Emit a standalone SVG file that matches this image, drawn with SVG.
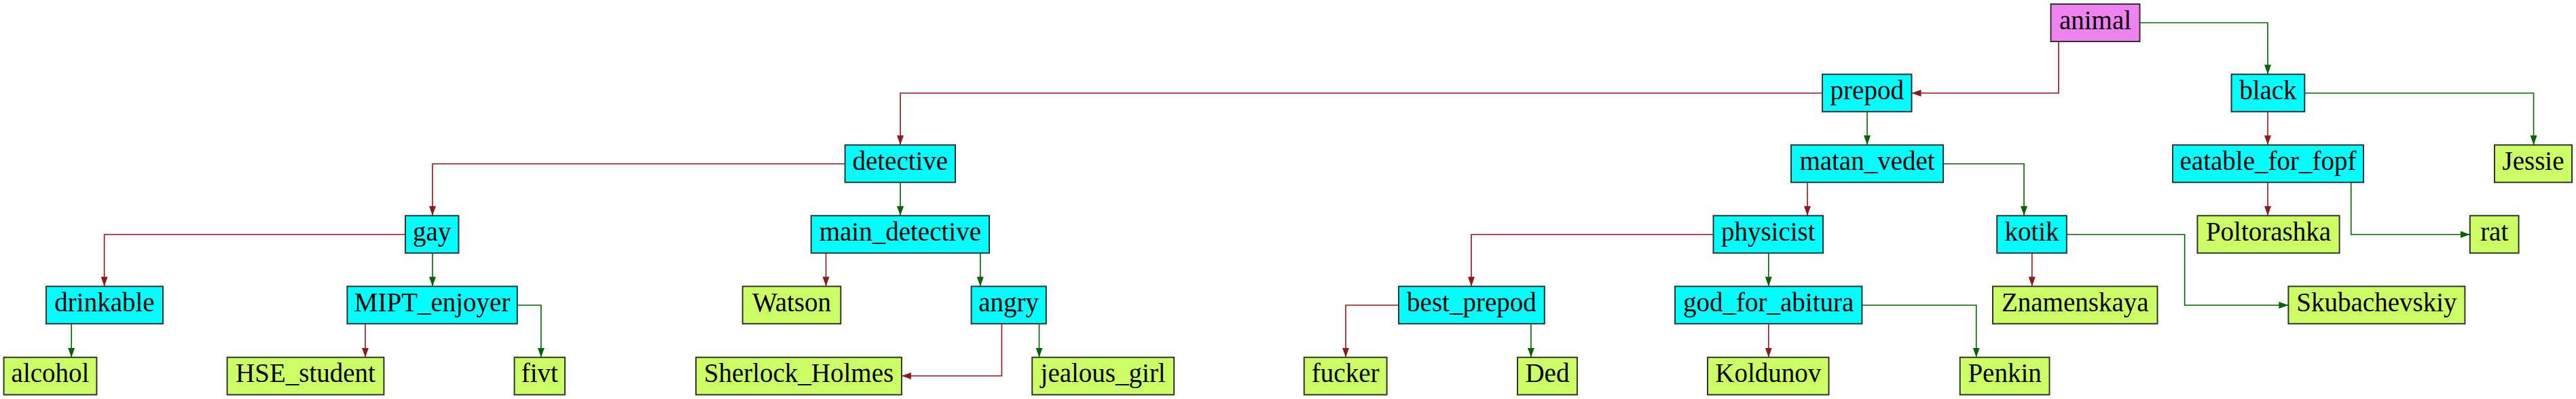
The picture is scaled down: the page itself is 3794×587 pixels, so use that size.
<svg xmlns="http://www.w3.org/2000/svg" width="3794" height="587" viewBox="0 0 3794 587">
<style>
.n rect{stroke:#333;stroke-width:2}
.c{fill:#00ffff}.l{fill:#ccff66}.r{fill:#ee82ee}
.n text{font-family:'Liberation Serif','Times New Roman',Times,serif;font-size:39px;fill:#000;text-anchor:middle}
.e path{fill:none;stroke-width:1.6}
.rd{stroke:#8b1a1a}.gr{stroke:#006400}
</style>
<defs>
<marker id="ar" markerUnits="userSpaceOnUse" markerWidth="15" markerHeight="11" refX="14" refY="5" orient="auto"><path d="M0,0 L14,5 L0,10 z" fill="#8b1a1a"/></marker>
<marker id="ag" markerUnits="userSpaceOnUse" markerWidth="15" markerHeight="11" refX="14" refY="5" orient="auto"><path d="M0,0 L14,5 L0,10 z" fill="#006400"/></marker>
</defs>
<rect width="3794" height="587" fill="#fff"/>
<g id="edges" class="e">
<path class="rd" marker-end="url(#ar)" d="M3032,61 V137 H2815.5"/>
<path class="gr" marker-end="url(#ag)" d="M3151,33.5 H3340 V109.3"/>
<path class="rd" marker-end="url(#ar)" d="M2684,137 H1326 V213.3"/>
<path class="gr" marker-end="url(#ag)" d="M2750,164.3 V213.3"/>
<path class="rd" marker-end="url(#ar)" d="M3340,164.3 V213.3"/>
<path class="gr" marker-end="url(#ag)" d="M3394.3,137 H3731.6 V213.3"/>
<path class="rd" marker-end="url(#ar)" d="M1244.6,241 H637 V317.3"/>
<path class="gr" marker-end="url(#ag)" d="M1326,268.3 V317.3"/>
<path class="rd" marker-end="url(#ar)" d="M2662,268.3 V317.3"/>
<path class="gr" marker-end="url(#ag)" d="M2862,241 H2981 V317.3"/>
<path class="rd" marker-end="url(#ar)" d="M3340,268.3 V317.3"/>
<path class="gr" marker-end="url(#ag)" d="M3462.7,268.3 V345 H3637.8"/>
<path class="rd" marker-end="url(#ar)" d="M597,345 H153.6 V421.3"/>
<path class="gr" marker-end="url(#ag)" d="M637,372.3 V421.3"/>
<path class="rd" marker-end="url(#ar)" d="M1216.5,372.3 V421.3"/>
<path class="gr" marker-end="url(#ag)" d="M1443.8,372.3 V421.3"/>
<path class="rd" marker-end="url(#ar)" d="M2523.5,345 H2167 V421.3"/>
<path class="gr" marker-end="url(#ag)" d="M2604.8,372.3 V421.3"/>
<path class="rd" marker-end="url(#ar)" d="M2992.8,372.3 V421.3"/>
<path class="gr" marker-end="url(#ag)" d="M3043.8,345 H3217.6 V449 H3370.4"/>
<path class="gr" marker-end="url(#ag)" d="M105.2,476.3 V525.7"/>
<path class="rd" marker-end="url(#ar)" d="M538,476.3 V525.7"/>
<path class="gr" marker-end="url(#ag)" d="M761.8,449 H796.9 V525.7"/>
<path class="rd" marker-end="url(#ar)" d="M1475.4,476.3 V553 H1327.9"/>
<path class="gr" marker-end="url(#ag)" d="M1530.5,476.3 V525.7"/>
<path class="rd" marker-end="url(#ar)" d="M2060,449 H1982 V525.7"/>
<path class="gr" marker-end="url(#ag)" d="M2254.9,476.3 V525.7"/>
<path class="rd" marker-end="url(#ar)" d="M2604.8,476.3 V525.7"/>
<path class="gr" marker-end="url(#ag)" d="M2742.4,449 H2910.7 V525.7"/>
</g>
<g id="animal" class="n"><rect class="r" x="3020.5" y="6" width="131" height="55"/><text x="3086" y="42.5">animal</text></g>
<g id="prepod" class="n"><rect class="c" x="2684" y="109.3" width="131.5" height="55"/><text x="2749.75" y="145.8">prepod</text></g>
<g id="black" class="n"><rect class="c" x="3286.5" y="109.3" width="107.8" height="55"/><text x="3340.4" y="145.8">black</text></g>
<g id="detective" class="n"><rect class="c" x="1244.6" y="213.3" width="162.4" height="55"/><text x="1325.8" y="249.8">detective</text></g>
<g id="matan_vedet" class="n"><rect class="c" x="2638" y="213.3" width="224" height="55"/><text x="2750" y="249.8">matan_vedet</text></g>
<g id="eatable_for_fopf" class="n"><rect class="c" x="3200" y="213.3" width="281" height="55"/><text x="3340.5" y="249.8">eatable_for_fopf</text></g>
<g id="Jessie" class="n"><rect class="l" x="3674" y="213.3" width="114" height="55"/><text x="3731" y="249.8">Jessie</text></g>
<g id="gay" class="n"><rect class="c" x="597" y="317.3" width="78.5" height="55"/><text x="636.25" y="353.8">gay</text></g>
<g id="main_detective" class="n"><rect class="c" x="1194.7" y="317.3" width="262.3" height="55"/><text x="1325.85" y="353.8">main_detective</text></g>
<g id="physicist" class="n"><rect class="c" x="2523.5" y="317.3" width="161.5" height="55"/><text x="2604.25" y="353.8">physicist</text></g>
<g id="kotik" class="n"><rect class="c" x="2941.2" y="317.3" width="102.6" height="55"/><text x="2992.5" y="353.8">kotik</text></g>
<g id="Poltorashka" class="n"><rect class="l" x="3236.4" y="317.3" width="209.2" height="55"/><text x="3341" y="353.8">Poltorashka</text></g>
<g id="rat" class="n"><rect class="l" x="3637.8" y="317.3" width="71.8" height="55"/><text x="3673.7" y="353.8">rat</text></g>
<g id="drinkable" class="n"><rect class="c" x="68" y="421.3" width="172" height="55"/><text x="154" y="457.8">drinkable</text></g>
<g id="MIPT_enjoyer" class="n"><rect class="c" x="511.4" y="421.3" width="250.4" height="55"/><text x="636.6" y="457.8">MIPT_enjoyer</text></g>
<g id="Watson" class="n"><rect class="l" x="1093.7" y="421.3" width="144.6" height="55"/><text x="1166" y="457.8">Watson</text></g>
<g id="angry" class="n"><rect class="c" x="1430.6" y="421.3" width="110.2" height="55"/><text x="1485.7" y="457.8">angry</text></g>
<g id="best_prepod" class="n"><rect class="c" x="2060" y="421.3" width="214.8" height="55"/><text x="2167.4" y="457.8">best_prepod</text></g>
<g id="god_for_abitura" class="n"><rect class="c" x="2467" y="421.3" width="275.4" height="55"/><text x="2604.7" y="457.8">god_for_abitura</text></g>
<g id="Znamenskaya" class="n"><rect class="l" x="2935" y="421.3" width="242.5" height="55"/><text x="3056.25" y="457.8">Znamenskaya</text></g>
<g id="Skubachevskiy" class="n"><rect class="l" x="3370.4" y="421.3" width="260" height="55"/><text x="3500.4" y="457.8">Skubachevskiy</text></g>
<g id="alcohol" class="n"><rect class="l" x="5.6" y="525.7" width="136.8" height="55"/><text x="74" y="562.2">alcohol</text></g>
<g id="HSE_student" class="n"><rect class="l" x="334.6" y="525.7" width="230.8" height="55"/><text x="450" y="562.2">HSE_student</text></g>
<g id="fivt" class="n"><rect class="l" x="757.6" y="525.7" width="74.4" height="55"/><text x="794.8" y="562.2">fivt</text></g>
<g id="Sherlock_Holmes" class="n"><rect class="l" x="1025" y="525.7" width="302.9" height="55"/><text x="1176.45" y="562.2">Sherlock_Holmes</text></g>
<g id="jealous_girl" class="n"><rect class="l" x="1520.2" y="525.7" width="208.9" height="55"/><text x="1624.65" y="562.2">jealous_girl</text></g>
<g id="fucker" class="n"><rect class="l" x="1920.7" y="525.7" width="121.9" height="55"/><text x="1981.65" y="562.2">fucker</text></g>
<g id="Ded" class="n"><rect class="l" x="2235" y="525.7" width="87.9" height="55"/><text x="2278.95" y="562.2">Ded</text></g>
<g id="Koldunov" class="n"><rect class="l" x="2515" y="525.7" width="178.5" height="55"/><text x="2604.25" y="562.2">Koldunov</text></g>
<g id="Penkin" class="n"><rect class="l" x="2886.7" y="525.7" width="131.8" height="55"/><text x="2952.6" y="562.2">Penkin</text></g>
</svg>
